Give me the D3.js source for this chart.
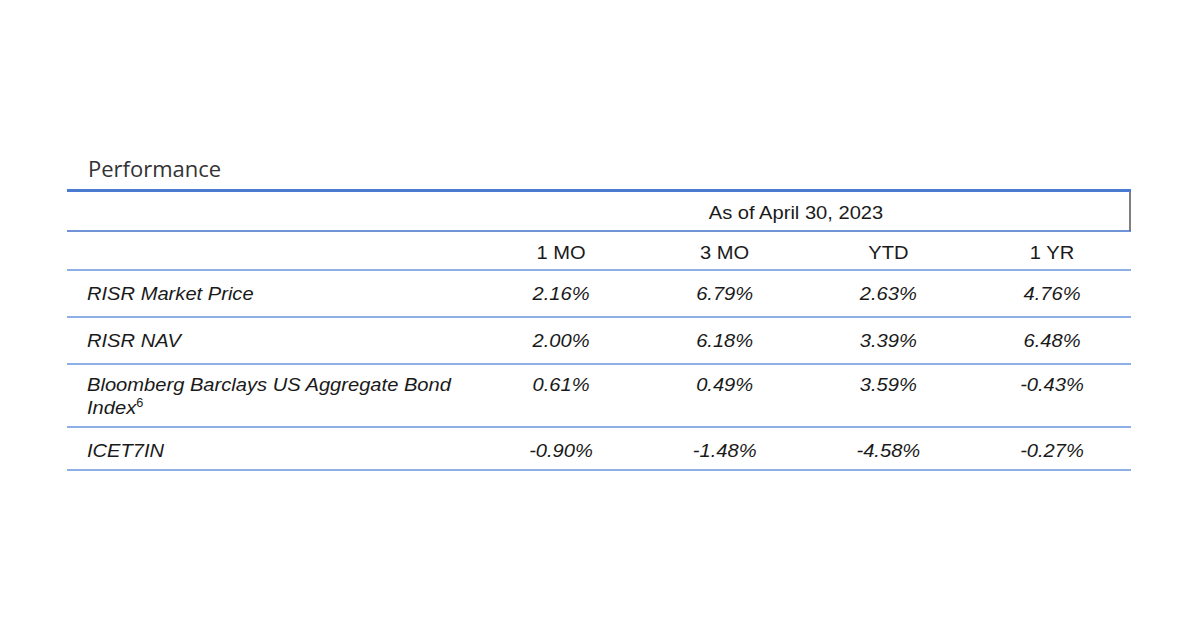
<!DOCTYPE html>
<html>
<head>
<meta charset="utf-8">
<script src="https://cdn.jsdelivr.net/npm/d3@7"></script>
<style>
  body { margin: 0; background: #fff; }
  text { font-family: "Liberation Sans", Arial, sans-serif; fill: #1a1a1a; }
  .title { font-family: "Open Sans", "Noto Sans", sans-serif; fill: #333; }
</style>
</head>
<body>
<svg id="chart" width="1200" height="628"></svg>
<script>
// table data
var title = "Performance"
var asOf = "As of April 30, 2023"
var periods = ["1 MO", "3 MO", "YTD", "1 YR"]
var rowNames = [
    ["RISR Market Price"],
    ["RISR NAV"],
    ["Bloomberg Barclays US Aggregate Bond", "Index", "6"],
    ["ICET7IN"]
]
var marketPrice = [2.16, 6.79, 2.63, 4.76]
var nav = [2.00, 6.18, 3.39, 6.48]
var aggBond = [0.61, 0.49, 3.59, -0.43]
var icet7in = [-0.90, -1.48, -4.58, -0.27]
var values = [marketPrice, nav, aggBond, icet7in]

var svg = d3.select("#chart")
var left = 67, right = 1131
var fs = "19px"
var stretch = 1.06   // source text is slightly wide

var x = d3.scalePoint()
    .domain(periods)
    .range([561, 1052])

// row heights: two-line row is taller
var rowH = rowNames.map((d, i) => d.length > 1 ? 63 : (i == rowNames.length - 1 ? 43 : 47))
var rowTop = [270]
rowH.forEach((h, i) => rowTop.push(rowTop[i] + h))

var fmt = d3.formatLocale({decimal: ".", thousands: ",", grouping: [3], currency: ["", ""], minus: "-"}).format(".2f")

var place = (px, py) => "translate(" + px + "," + py + ") scale(" + stretch + ",1)"

svg.append("text")
    .attr("class", "title")
    .attr("x", 88)
    .attr("y", 168)
    .attr("dominant-baseline", "central")
    .style("font-size", "22px")
    .text(title)

// header lines
svg.append("line")
    .attr("x1", left).attr("x2", right)
    .attr("y1", 190.5).attr("y2", 190.5)
    .attr("stroke", "#4a7bd0").attr("stroke-width", 3)
svg.append("line")
    .attr("x1", right - 1).attr("x2", right - 1)
    .attr("y1", 192).attr("y2", 231)
    .attr("stroke", "#555").attr("stroke-width", 1.5)
svg.append("line")
    .attr("x1", left).attr("x2", right)
    .attr("y1", 231).attr("y2", 231)
    .attr("stroke", "#3f6fc8").attr("stroke-width", 1.5)

svg.append("text")
    .attr("transform", place(796, 212))
    .attr("text-anchor", "middle")
    .attr("dominant-baseline", "central")
    .style("font-size", fs)
    .text(asOf)

svg.selectAll(".period")
    .data(periods)
    .enter().append("text")
    .attr("class", "period")
    .attr("transform", (d) => place(x(d), 252))
    .attr("text-anchor", "middle")
    .attr("dominant-baseline", "central")
    .style("font-size", fs)
    .text((d) => d)

// row separators
svg.selectAll(".sep")
    .data(rowTop)
    .enter().append("line")
    .attr("class", "sep")
    .attr("x1", left).attr("x2", right)
    .attr("y1", (d) => d).attr("y2", (d) => d)
    .attr("stroke", "#8eaee6").attr("stroke-width", 2)

var rows = svg.selectAll(".row")
    .data(values)
    .enter().append("g")
    .attr("class", "row")
    .attr("transform", (d, i) => "translate(0," + (rowTop[i] + (rowNames[i].length > 1 ? 20 : 23)) + ")")

rows.each(function (d, i) {
    let g = d3.select(this)
    let name = rowNames[i]
    // one text element, wrapped label goes in tspans
    let t = g.append("text")
        .attr("transform", place(87, 0))
        .attr("dominant-baseline", "central")
        .style("font-size", fs)
        .style("font-style", "italic")
    t.append("tspan").attr("x", 0).text(name[0])
    if (name.length > 1) {
        t.append("tspan").attr("x", 0).attr("dy", 23).text(name[1])
        t.append("tspan")
            .attr("dy", -4)
            .style("font-size", "12px")
            .style("font-style", "normal")
            .text(name[2])
    }
    g.selectAll(".val")
        .data(d)
        .enter().append("text")
        .attr("class", "val")
        .attr("transform", (v, j) => place(x(periods[j]), 0))
        .attr("text-anchor", "middle")
        .attr("dominant-baseline", "central")
        .style("font-size", fs)
        .style("font-style", "italic")
        .text((v) => fmt(v) + "%")
})
</script>
</body>
</html>
